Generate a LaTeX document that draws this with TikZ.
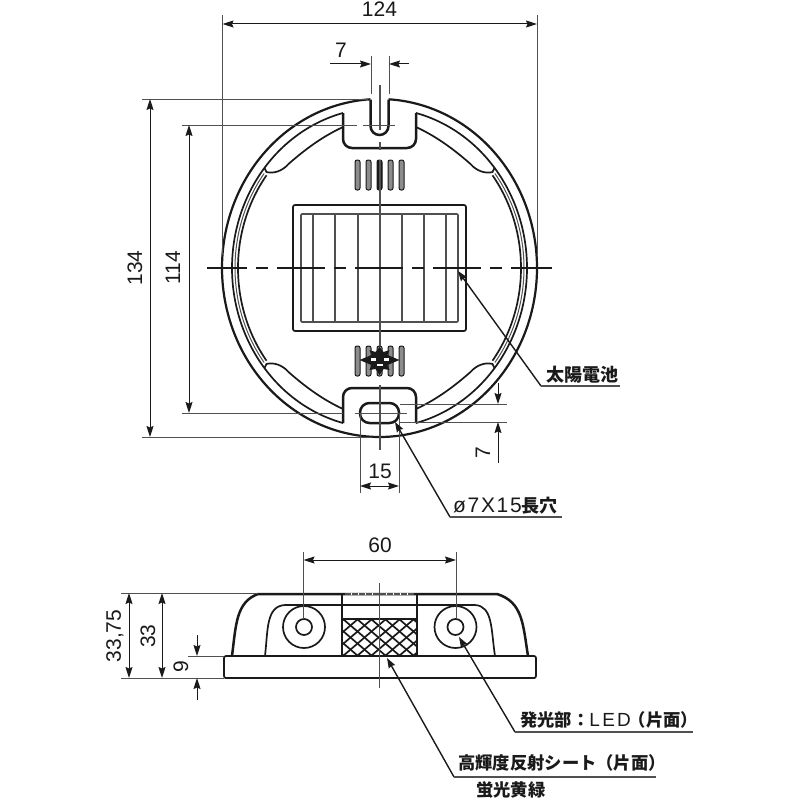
\documentclass[tikz,border=0pt]{standalone}
\usepackage{fontspec}
\setmainfont{Liberation Sans}
\newfontfamily\cjk{Noto Sans CJK JP}
\newfontfamily\spfont[LetterSpace=8]{Liberation Sans}
\newfontfamily\ledfont[LetterSpace=12]{Liberation Sans}
\usetikzlibrary{arrows.meta}
\definecolor{ink}{HTML}{1A1A1A}
\definecolor{mid}{HTML}{505050}
\definecolor{barfill}{HTML}{8C8C8C}
\tikzset{
  tipdim/.tip={Stealth[length=11pt,width=7pt,inset=1.5pt]},
  thinline/.style={draw=mid,line width=1pt},
  dimline/.style={draw=ink,line width=1pt,-tipdim},
  dimboth/.style={draw=ink,line width=1pt,tipdim-tipdim},
  leader/.style={draw=ink,line width=1.4pt,{Stealth[length=10pt,width=7pt,inset=1pt]}-},
  under/.style={draw=mid,line width=1.4pt},
  part/.style={draw=ink,line width=1.7pt},
  heavy/.style={draw=ink,line width=2.5pt},
  greyl/.style={draw=mid,line width=1.6pt},
  num/.style={font=\fontsize{21}{21}\selectfont,text=ink,inner sep=0pt},
  jp/.style={font=\cjk\bfseries\fontsize{17.3}{17.3}\selectfont,text=ink,inner sep=0pt},
  bar/.style={draw=ink,fill=barfill,line width=1pt,rounded corners=2pt}
}
\begin{document}
\begin{tikzpicture}[x=1pt,y=-1pt]
\useasboundingbox (0,0) rectangle (800,800);
\fill[white] (0,0) rectangle (800,800);

% ---------- plan view ----------
\begin{scope}[shift={(379.5,268)}]
  \draw[part,line width=2.2pt] plot[domain=-86.7:266.7,samples=240] ({157.5*cos(\x)},{169*sin(\x)});
  \draw[heavy] (-9,-168.5) -- (-9,-142) .. controls (-9,-137) and (-5,-133) .. (0,-133)
     .. controls (5,-133) and (9,-137) .. (9,-142) -- (9,-168.5);
  % ring
  \draw[part] plot[domain=104.3:255.7,samples=120] ({147.5*cos(\x)},{160*sin(\x)});
  \draw[part] plot[domain=-75.7:75.7,samples=120] ({147.5*cos(\x)},{160*sin(\x)});
  \foreach \sx in {1,-1}{
    \begin{scope}[xscale=\sx]
      \draw[part] plot[domain=143:217,samples=60] ({141.5*cos(\x)},{154*sin(\x)});
      \draw[draw=mid,line width=1pt] plot[domain=143:217,samples=60] ({144.5*cos(\x)},{157*sin(\x)});
    \end{scope}
    \foreach \sy in {1,-1}{
      \begin{scope}[xscale=\sx,yscale=\sy]
        \draw[part] (-36.5,-141) .. controls (-58,-131) and (-75,-118) .. (-91,-104)
           .. controls (-97,-97) and (-106,-94) .. (-113,-96) -- (-115,-100);
      \end{scope}
    }
  }
  % tabs
  \foreach \sy in {1,-1}{
    \begin{scope}[yscale=\sy]
      \draw[heavy,rounded corners=9pt] (-36.5,-155) -- (-36.5,-120) -- (36.5,-120) -- (36.5,-155);
    \end{scope}
  }
  % long hole
  \draw[heavy,rounded corners=9.5pt] (-19.5,135) rectangle (19.5,155);
  % bars
  \foreach \bx in {-22,-11,11,22}{
    \draw[bar] (\bx-2.5,-108) rectangle (\bx+2.5,-78);
    \draw[bar] (\bx-2.5,78) rectangle (\bx+2.5,108);
  }
  \draw[bar,fill=ink] (-2.5,-108) rectangle (2.5,-78);
  \draw[bar] (-2.5,78) rectangle (2.5,108);
  % panel
  \draw[part,rounded corners=2pt] (-86.5,-63) rectangle (86.5,63);
  \draw[greyl,rounded corners=1pt] (-78.5,-54) rectangle (78.5,54);
  \foreach \px in {-66.5,-44.5,-21.5,22.5,44.5,66.5}{
    \draw[greyl] (\px,-54) -- (\px,54);
  }
  % star mark
  \fill[ink] (-20,92) -- (-8,87) -- (-10,82) -- (-4,84) -- (0,79) -- (4,84) -- (10,82) -- (8,87) -- (20,92)
     -- (8,97) -- (10,102) -- (4,101) -- (0,107) -- (-4,101) -- (-10,102) -- (-8,97) -- cycle;
  \fill[white] (-9,90) rectangle (-4,93);
  \fill[white] (4,90) rectangle (9,93);
  \fill[white] (-3,96) rectangle (3,98);
  % centre lines
  \draw[greyl] (0.5,-183) -- (0.5,-138);
  \draw[greyl] (0.5,-126) -- (0.5,-118);
  \draw[greyl] (0.5,-108) -- (0.5,78);
  \draw[greyl] (0.5,117) -- (0.5,182);
\end{scope}
\draw[draw=ink,line width=1.1pt,dash pattern=on 48pt off 9pt on 12pt off 9pt,dash phase=8pt] (207,268) -- (552,268);
\draw[thinline,dash pattern=on 54pt off 6pt on 32pt off 9pt] (303,125) -- (395,125);
\draw[thinline] (355,413) -- (407,413);

% extension lines, plan
\draw[thinline] (222.5,15) -- (222.5,255);
\draw[thinline] (537,15) -- (537,255);
\draw[thinline] (371,56) -- (371,94);
\draw[thinline] (389,56) -- (389,94);
\draw[thinline] (142,99) -- (368,99);
\draw[thinline] (142,437) -- (372,437);
\draw[thinline] (182,125) -- (303,125);
\draw[thinline] (182,413) -- (343,413);
\draw[thinline] (360,413) -- (360,493);
\draw[thinline] (399,413) -- (399,493);
\draw[thinline] (400,404) -- (507,404);
\draw[thinline] (400,422) -- (507,422);

% dimensions, plan
\coordinate (w1) at (222.5,24); \coordinate (w2) at (537,24);
\draw[dimboth] (w1) -- (w2);
\node[num] (t124) at (379.5,9) {124};
\coordinate (s1) at (330,64); \coordinate (s2) at (371,64); \coordinate (s3) at (409,64); \coordinate (s4) at (389,64);
\draw[dimline] (s1) -- (s2);
\draw[dimline] (s3) -- (s4);
\node[num] (t7a) at (341,50) {7};
\coordinate (h1) at (150,99); \coordinate (h2) at (150,437);
\draw[dimboth] (h1) -- (h2);
\node[num,rotate=90] (t134) at (135,268) {134};
\coordinate (i1) at (189,125); \coordinate (i2) at (189,413);
\draw[dimboth] (i1) -- (i2);
\node[num,rotate=90] (t114) at (173,268) {114};
\coordinate (f1) at (360,486); \coordinate (f2) at (399,486);
\draw[dimboth] (f1) -- (f2);
\node[num] (t15) at (380,471) {15};
\coordinate (v1) at (498,383); \coordinate (v2) at (498,404); \coordinate (v3) at (498,463); \coordinate (v4) at (498,422);
\draw[dimline] (v1) -- (v2);
\draw[dimline] (v3) -- (v4);
\node[num,rotate=90] (t7b) at (483,453) {7};

% leaders, plan
\node[jp,anchor=west,font=\cjk\bfseries\fontsize{18}{18}\selectfont] (tsun) at (546,375) {太陽電池};
\coordinate (la) at (458,271); \coordinate (lb) at (541,386); \coordinate (lc) at (620,386);
\draw[leader] (la) -- (lb);
\draw[under] (lb) -- (lc);
\node[jp,anchor=west] (thole) at (453,506) {{\mdseries\spfont\fontsize{21}{21}\selectfont ø7X15}{\cjk\bfseries\fontsize{18}{18}\selectfont 長穴}};
\coordinate (ha) at (395,422); \coordinate (hb) at (450,517); \coordinate (hc) at (562,517);
\draw[leader] (ha) -- (hb);
\draw[under] (hb) -- (hc);

% ---------- side view ----------
\draw[part,rounded corners=2pt] (224,656) rectangle (536,678);
\draw[heavy] (225,678) -- (535,678);
\draw[heavy] (232,656) .. controls (236,625) and (236,602) .. (258,594) -- (497,594)
   .. controls (523,602) and (523,625) .. (528,656);
\draw[part] (265,656) .. controls (268,630) and (266,606) .. (285,605) -- (475,605)
   .. controls (493,606) and (491,630) .. (495,656);
\draw[part] (342,594) -- (342,656);
\draw[part] (417,594) -- (417,656);
\draw[part] (342,619) -- (417,619);
\begin{scope}
  \clip (343,619) rectangle (416,656);
  \foreach \k in {-56,-42,...,84}{
    \draw[ink,line width=1.7pt] (343+\k,619) -- (343+\k+43,656);
    \draw[ink,line width=1.7pt] (343+\k+43,619) -- (343+\k,656);
  }
\end{scope}
\draw[white,line width=2pt] (345,594) -- (414,594);
\draw[draw=mid,line width=1.4pt,dash pattern=on 6pt off 1pt] (345,594) -- (414,594);
\node[draw=ink,line width=1.7pt,circle,minimum size=42pt,inner sep=0pt,fill=white] (ledl) at (304,627) {};
\node[draw=ink,line width=1.7pt,circle,minimum size=16pt,inner sep=0pt] (ledli) at (304,627) {};
\node[draw=ink,line width=1.7pt,circle,minimum size=42pt,inner sep=0pt,fill=white] (ledr) at (455.5,627) {};
\node[draw=ink,line width=1.7pt,circle,minimum size=16pt,inner sep=0pt] (ledri) at (455.5,627) {};
\draw[greyl] (379.5,583) -- (379.5,688);

% extension lines, side
\draw[thinline] (303.5,552) -- (303.5,619);
\draw[thinline] (456,552) -- (456,619);
\draw[thinline] (121,593) -- (258,593);
\draw[thinline] (121,678) -- (224,678);
\draw[thinline] (188,656) -- (224,656);

% dimensions, side
\coordinate (o1) at (303.5,560); \coordinate (o2) at (456,560);
\draw[dimboth] (o1) -- (o2);
\node[num] (t60) at (380,545) {60};
\coordinate (a1) at (129,593); \coordinate (a2) at (129,678);
\draw[dimboth] (a1) -- (a2);
\node[num,rotate=90] (t3375) at (115,636) {33,75};
\coordinate (b1) at (162,593); \coordinate (b2) at (162,678);
\draw[dimboth] (b1) -- (b2);
\node[num,rotate=90] (t33) at (148,636) {33};
\coordinate (n1) at (197,635); \coordinate (n2) at (197,656); \coordinate (n3) at (197,700); \coordinate (n4) at (197,678);
\draw[dimline] (n1) -- (n2);
\draw[dimline] (n3) -- (n4);
\node[num,rotate=90] (t9) at (181,667) {9};

% leaders, side
\node[jp,anchor=west] (tled) at (520,720) {発光部^^^^ff1a{\ledfont\mdseries\fontsize{19}{19}\selectfont LED}\hspace{-2pt}^^^^ff08片面^^^^ff09};
\coordinate (ea) at (459,637); \coordinate (eb) at (515,732); \coordinate (ec) at (693,732);
\draw[leader] (ea) -- (eb);
\draw[under] (eb) -- (ec);
\node[jp,anchor=west] (trefl) at (458,763) {高輝度反射シート^^^^ff08片面^^^^ff09};
\coordinate (ra) at (387,658); \coordinate (rb) at (454,777); \coordinate (rc) at (656,777);
\draw[leader] (ra) -- (rb);
\draw[under] (rb) -- (rc);
\node[jp,anchor=west] (tcol) at (476,790) {蛍光黄緑};
\end{tikzpicture}
\end{document}
